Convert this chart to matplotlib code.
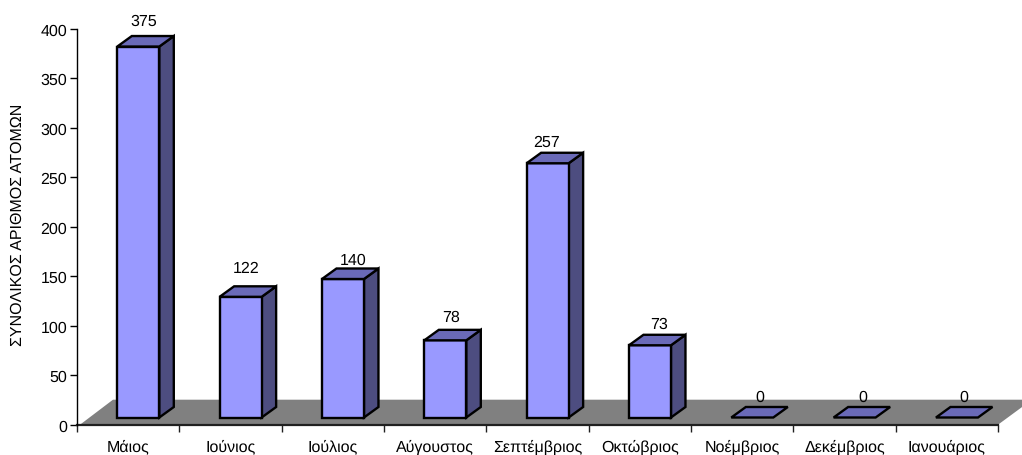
import matplotlib
matplotlib.use("Agg")
import matplotlib.pyplot as plt
from matplotlib.patches import Polygon
from matplotlib.ticker import FixedLocator

months = ["Μάιος", "Ιούνιος", "Ιούλιος", "Αύγουστος", "Σεπτέμβριος", "Οκτώβριος", "Νοέμβριος", "Δεκέμβριος", "Ιανουάριος"]
values = [375, 122, 140, 78, 257, 73, 0, 0, 0]
y_ticks = [0, 50, 100, 150, 200, 250, 300, 350, 400]
y_title = "ΣΥΝΟΛΙΚΟΣ ΑΡΙΘΜΟΣ ΑΤΟΜΩΝ"

# label nudges in pixels (dx from bar front centre, dy above back edge)
label_dx = [5, 6, 10, 6, -1, 9, 8, 8, 7]
label_dy = [15, 18, 9, 13, 11.5, 11.5, 10, 10, 10]

W, H = 1022, 456
L, R, T, B = 77, 998, 30, 425.7

plt.rcParams["font.family"] = ["Liberation Sans", "DejaVu Sans"]
plt.rcParams["text.hinting"] = "no_hinting"
plt.rcParams["text.hinting_factor"] = 1
fig = plt.figure(figsize=(W / 100, H / 100), dpi=100)
ax = fig.add_axes([L / W, 1 - B / H, (R - L) / W, (B - T) / H])
ax.set_xlim(0, len(months))
ax.set_ylim(0, 400)

px = len(months) / (R - L)      # data x per pixel
py = 400 / (B - T)              # data y per pixel

FS = 11.3
front, top, side = "#9999FF", "#6A6AB8", "#4D4D80"
floor = "#808080"

# floor
ax.add_patch(Polygon([(3 * px, 0), (36 * px, 25 * py), (len(months) + 34 * px, 25 * py),
                      (len(months), 0)], closed=True, fc=floor, ec="none", clip_on=False, zorder=1))

base = 7.2 * py
bw = 42 * px
dx, dy = 14.5 * px, 10.5 * py
lw = 1.7
for i, v in enumerate(values):
    x0 = i + 40.3 * px
    x1 = x0 + bw
    y0 = base
    y1 = base + v
    kw = dict(closed=True, ec="black", lw=lw, joinstyle="miter", clip_on=False, zorder=3)
    if v > 0:
        ax.add_patch(Polygon([(x1, y0), (x1 + dx, y0 + dy), (x1 + dx, y1 + dy), (x1, y1)], fc=side, **kw))
        ax.add_patch(Polygon([(x0, y0), (x1, y0), (x1, y1), (x0, y1)], fc=front, **kw))
    ax.add_patch(Polygon([(x0, y1), (x1, y1), (x1 + dx, y1 + dy), (x0 + dx, y1 + dy)], fc=top, **kw))
    ax.text((x0 + x1) / 2 + label_dx[i] * px, y1 + dy + label_dy[i] * py, str(v),
            ha="center", va="center", fontsize=FS, color="black", zorder=5, clip_on=False)

for s in ("top", "right"):
    ax.spines[s].set_visible(False)
ax.spines["left"].set_linewidth(1.0)
ax.spines["bottom"].set_linewidth(1.6)
ax.spines["bottom"].set_color("#202020")
ax.spines["bottom"].set_zorder(2)

ax.yaxis.set_major_locator(FixedLocator(y_ticks))
ax.set_yticklabels([str(t) for t in y_ticks], fontsize=FS)
ax.xaxis.set_major_locator(FixedLocator(list(range(len(months) + 1))))
ax.xaxis.set_minor_locator(FixedLocator([i + 0.5 for i in range(len(months))]))
ax.set_xticklabels([])
ax.set_xticklabels(months, minor=True, fontsize=FS)
ax.tick_params(axis="x", which="major", length=5, width=1, direction="out", color="#202020")
ax.tick_params(axis="x", which="minor", length=0, pad=9.8)
ax.tick_params(axis="y", length=5, width=1, pad=2)

fig.text(18 / W, 1 - 224.5 / H, y_title, rotation=90, ha="center", va="center", fontsize=11.6)

fig.savefig("out.png", dpi=100, facecolor="white")
